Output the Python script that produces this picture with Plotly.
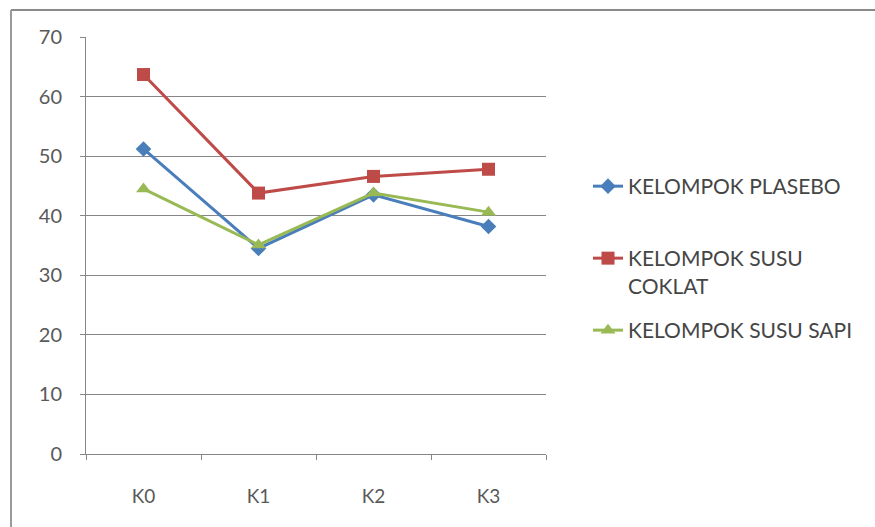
import plotly.graph_objects as go

# Categories and group means
categories = ["K0", "K1", "K2", "K3"]
plasebo = [51.2, 34.5, 43.5, 38.2]
susu_coklat = [63.7, 43.8, 46.6, 47.8]
susu_sapi = [44.5, 35.1, 43.8, 40.6]
y_ticks = [0, 10, 20, 30, 40, 50, 60, 70]

W, H = 875, 527
L, R, T, B = 86, 329, 37, 73
plot_w = W - L - R
plot_h = H - T - B


def px_x(px):
    return (px - L) / plot_w


def px_y(py):
    return (H - B - py) / plot_h


font_family = "Lato, 'Open Sans', sans-serif"

fig = go.Figure()

series = [
    ("KELOMPOK PLASEBO", plasebo, "#4A7EBB", "diamond", 12, "legend"),
    ("KELOMPOK SUSU<br>COKLAT", susu_coklat, "#BE4B48", "square", 13, "legend2"),
    ("KELOMPOK SUSU SAPI", susu_sapi, "#98B954", "triangle-up", 13, "legend3"),
]

for name, vals, color, symbol, size, leg in series:
    fig.add_trace(go.Scatter(
        x=categories, y=vals, name=name, mode="lines+markers",
        line=dict(color=color, width=3),
        marker=dict(symbol=symbol, size=size, color=color),
        legend=leg,
    ))

legend_common = dict(
    font=dict(family=font_family, size=21, color="#454545"),
    bgcolor="rgba(0,0,0,0)", xanchor="left", yanchor="top",
    valign="top", itemwidth=30,
)

fig.update_layout(
    width=W, height=H,
    margin=dict(l=L, r=R, t=T, b=B),
    paper_bgcolor="white", plot_bgcolor="white",
    font=dict(family=font_family, size=19, color="#595959"),
    showlegend=True,
    legend=dict(x=px_x(588), y=px_y(166), **legend_common),
    legend2=dict(x=px_x(588), y=px_y(238), **legend_common),
    legend3=dict(x=px_x(588), y=px_y(310), **legend_common),
    xaxis=dict(
        type="category", range=[-0.5, 3.5],
        showgrid=False, showline=True, linecolor="#868686", linewidth=1,
        ticks="outside", tickson="boundaries", ticklen=5, tickcolor="#868686",
        ticklabelstandoff=25, zeroline=False,
        tickfont=dict(family=font_family, size=19, color="#595959"),
    ),
    yaxis=dict(
        range=[0, 70], tickvals=y_ticks,
        showgrid=True, gridcolor="#868686", gridwidth=1,
        showline=True, linecolor="#868686", linewidth=1,
        ticks="outside", ticklen=5, tickcolor="#868686",
        ticklabelstandoff=14, zeroline=False,
        tickfont=dict(family=font_family, size=20, color="#595959"),
    ),
    shapes=[
        dict(type="line", xref="paper", yref="paper",
             x0=px_x(11), x1=px_x(W + 5), y0=px_y(10), y1=px_y(10),
             line=dict(color="#8a8a8a", width=2)),
        dict(type="line", xref="paper", yref="paper",
             x0=px_x(11), x1=px_x(11), y0=px_y(10), y1=px_y(H + 5),
             line=dict(color="#9a9a9a", width=2)),
    ],
)

fig.write_html("out.html")
